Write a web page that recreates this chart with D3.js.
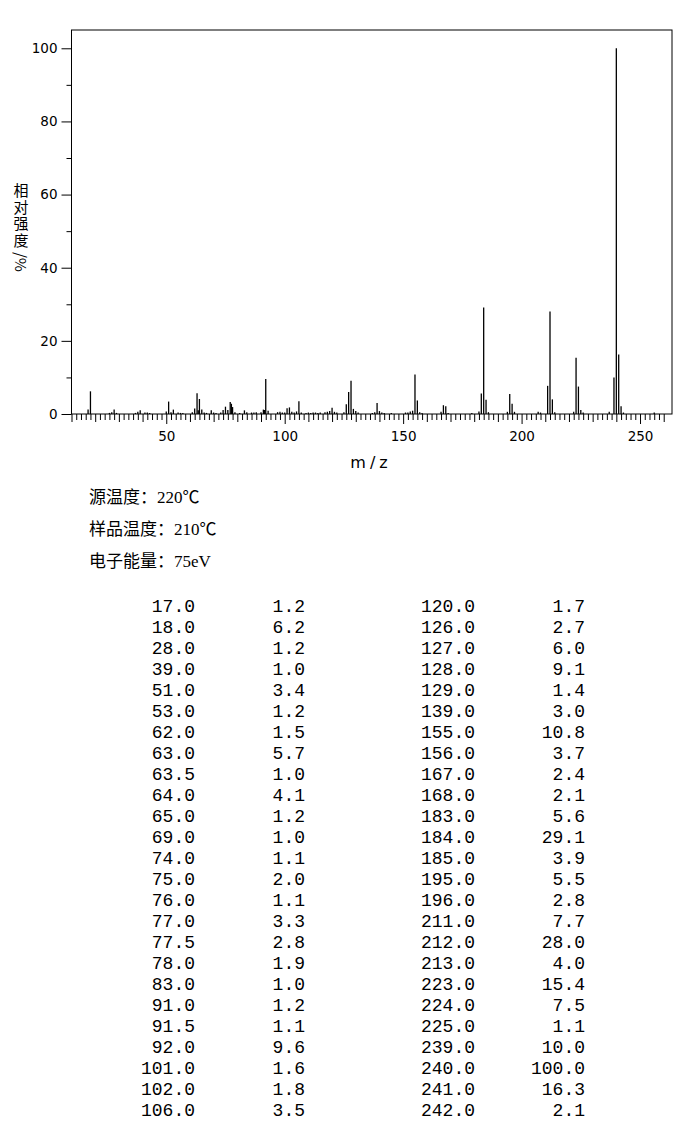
<!DOCTYPE html>
<html>
<head>
<meta charset="utf-8">
<script src="https://cdn.jsdelivr.net/npm/d3@7"></script>
<style>
  body { margin: 0; background: #fff; }
  svg { display: block; }
</style>
</head>
<body>
<div id="chart"></div>
<script>
// Peaks listed in the table (m/z, relative intensity %)
const peakMz = [17, 18, 28, 39, 51, 53, 62, 63, 63.5, 64, 65, 69, 74, 75, 76, 77, 77.5, 78, 83, 91, 91.5, 92, 101, 102, 106,
    120, 126, 127, 128, 129, 139, 155, 156, 167, 168, 183, 184, 185, 195, 196, 211, 212, 213, 223, 224, 225, 239, 240, 241, 242];
const peakInt = [1.2, 6.2, 1.2, 1.0, 3.4, 1.2, 1.5, 5.7, 1.0, 4.1, 1.2, 1.0, 1.1, 2.0, 1.1, 3.3, 2.8, 1.9, 1.0, 1.2, 1.1, 9.6, 1.6, 1.8, 3.5,
    1.7, 2.7, 6.0, 9.1, 1.4, 3.0, 10.8, 3.7, 2.4, 2.1, 5.6, 29.1, 3.9, 5.5, 2.8, 7.7, 28.0, 4.0, 15.4, 7.5, 1.1, 10.0, 100.0, 16.3, 2.1];

// Small peaks (< 1 %) seen only in the plot
const minorMz = [26, 27, 29, 37, 38, 41, 42, 43, 50, 52, 55, 56, 57, 61, 66, 67, 70, 71, 73, 79, 81, 84, 86, 87, 88, 90, 93,
    97, 98, 99, 100, 103, 104, 105, 107, 109, 110, 111, 112, 113, 114, 115, 117, 118, 119, 121, 122, 125, 130, 131,
    137, 138, 140, 141, 142, 145, 151, 152, 153, 154, 157, 158, 166, 169, 179, 182, 186, 194, 197, 207, 208, 214,
    222, 226, 237, 243, 256];
const minorInt = [0.3, 0.5, 0.3, 0.3, 0.6, 0.4, 0.4, 0.3, 0.7, 0.5, 0.4, 0.3, 0.3, 0.5, 0.4, 0.3, 0.4, 0.3, 0.4, 0.5, 0.3, 0.5, 0.4, 0.4, 0.5, 0.5, 0.9,
    0.5, 0.6, 0.4, 0.4, 0.6, 0.4, 0.7, 0.4, 0.3, 0.4, 0.3, 0.4, 0.4, 0.3, 0.4, 0.5, 0.6, 0.8, 0.6, 0.4, 0.5, 0.8, 0.4,
    0.3, 0.5, 0.8, 0.4, 0.3, 0.3, 0.4, 0.4, 0.7, 0.9, 0.5, 0.3, 0.6, 0.3, 0.3, 0.7, 0.5, 0.6, 0.6, 0.6, 0.4, 0.5,
    0.6, 0.4, 0.6, 0.4, 0.4];

const xLabels = [50, 100, 150, 200, 250];
const yLabels = [0, 20, 40, 60, 80, 100];
const yTitleText = "相对强度";
const yTitleUnit = "/%";
const xTitle = "m/z";
const infoLines = ["源温度：220℃", "样品温度：210℃", "电子能量：75eV"];

const width = 696, height = 1134;
const plot = { left: 71.5, right: 672, top: 30, bottom: 414 };

const svg = d3.select("#chart")
    .append("svg")
    .attr("width", width)
    .attr("height", height);

const x = d3.scaleLinear().domain([10, 263.5]).range([plot.left, plot.right]);
const y = d3.scaleLinear().domain([0, 105]).range([plot.bottom, plot.top]);

// Frame
svg.append("rect")
    .attr("x", plot.left)
    .attr("y", plot.top)
    .attr("width", plot.right - plot.left)
    .attr("height", plot.bottom - plot.top)
    .attr("fill", "none")
    .attr("stroke", "#000")
    .attr("stroke-width", 1);

// X axis ticks: every 2, longer every 10, longest every 50
const allTicks = d3.range(10, 261, 2);
function addXAxis(values, size, labels) {
    const g = svg.append("g")
        .attr("transform", `translate(0,${plot.bottom})`)
        .call(d3.axisBottom(x).tickValues(values).tickSize(size).tickPadding(7)
            .tickFormat(labels ? d3.format("d") : ""));
    g.select(".domain").remove();
    g.selectAll("line").attr("stroke", "#000");
    g.selectAll("text")
        .style("font-family", "'DejaVu Sans', Verdana, sans-serif")
        .style("font-size", "13.5px")
        .attr("fill", "#000");
}
addXAxis(allTicks.filter(v => v % 10 !== 0), 6, false);
addXAxis(allTicks.filter(v => v % 10 === 0 && v % 50 !== 0), 8, false);
addXAxis(xLabels, 10, true);

// Y axis
const yMinor = svg.append("g")
    .attr("transform", `translate(${plot.left},0)`)
    .call(d3.axisLeft(y).tickValues([10, 30, 50, 70, 90]).tickSize(5).tickFormat(""));
yMinor.select(".domain").remove();

const yAxis = svg.append("g")
    .attr("transform", `translate(${plot.left},0)`)
    .call(d3.axisLeft(y).tickValues(yLabels).tickSize(10).tickPadding(4));
yAxis.select(".domain").remove();
yAxis.selectAll("text")
    .style("font-family", "'DejaVu Sans', Verdana, sans-serif")
    .style("font-size", "13.5px")
    .attr("fill", "#000");
svg.selectAll(".tick line").attr("stroke", "#000");

// Peaks
const peaks = peakMz.map((m, i) => ({ mz: m, v: peakInt[i] }))
    .concat(minorMz.map((m, i) => ({ mz: m, v: minorInt[i] })));

svg.append("g")
    .selectAll("line")
    .data(peaks)
    .enter()
    .append("line")
    .attr("x1", d => x(d.mz))
    .attr("x2", d => x(d.mz))
    .attr("y1", y(0))
    .attr("y2", d => y(d.v))
    .attr("stroke", "#000")
    .attr("stroke-width", 1.3);

// Y title: upright characters in vertical writing, unit turned sideways
const yTitle = svg.append("g")
    .style("font-family", "'Noto Sans CJK SC', sans-serif")
    .style("font-size", "15px")
    .attr("fill", "#000");
yTitle.append("text")
    .attr("x", 21)
    .attr("y", 183)
    .style("writing-mode", "vertical-rl")
    .style("text-orientation", "upright")
    .style("letter-spacing", "1.6px")
    .text(yTitleText);
yTitle.append("text")
    .attr("transform", "translate(21,252) rotate(90)")
    .attr("dominant-baseline", "central")
    .text(yTitleUnit);

svg.append("text")
    .attr("x", 371)
    .attr("y", 468)
    .attr("text-anchor", "middle")
    .style("font-family", "'DejaVu Sans', Verdana, sans-serif")
    .style("font-size", "16px")
    .style("letter-spacing", "4px")
    .attr("fill", "#000")
    .text(xTitle);

// Instrument info
svg.append("g")
    .selectAll("text")
    .data(infoLines)
    .enter()
    .append("text")
    .attr("x", 89)
    .attr("y", (d, i) => 503 + i * 32)
    .style("font-family", "'Liberation Serif', 'Noto Sans CJK SC', serif")
    .style("font-size", "17px")
    .attr("fill", "#000")
    .text(d => d);

// Peak table, two halves side by side
const half = Math.ceil(peakMz.length / 2);
const colEnds = [195, 305, 475, 585];
const table = svg.append("g")
    .style("font-family", "'Liberation Mono', 'DejaVu Sans Mono', monospace")
    .style("font-size", "18px")
    .attr("fill", "#000")
    .attr("text-anchor", "end");

peakMz.forEach((m, i) => {
    const col = i < half ? 0 : 2;
    const row = i % half;
    const yy = 612 + row * 21;
    table.append("text").attr("x", colEnds[col]).attr("y", yy).text(m.toFixed(1));
    table.append("text").attr("x", colEnds[col + 1]).attr("y", yy).text(peakInt[i].toFixed(1));
});
</script>
</body>
</html>
